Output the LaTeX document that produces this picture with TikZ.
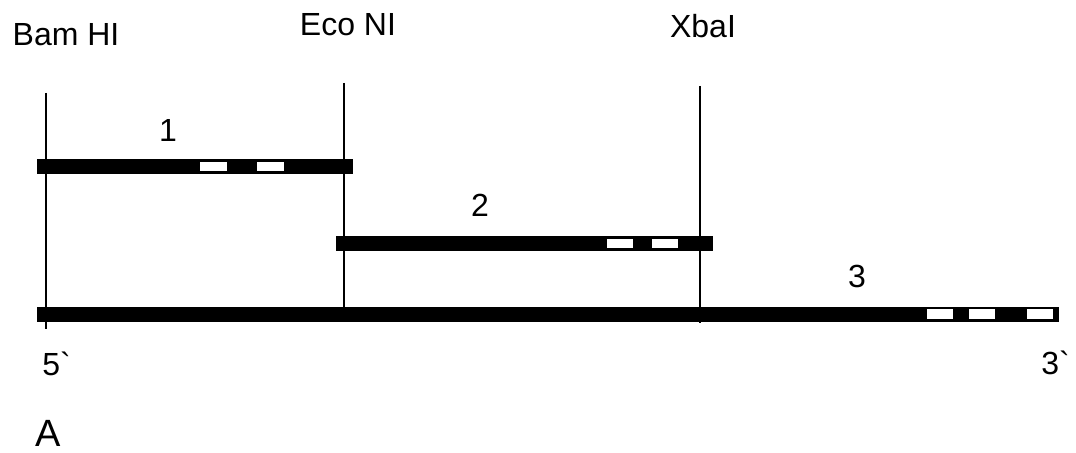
\documentclass[tikz,border=0pt]{standalone}
\usepackage{fontspec}
\newfontfamily\lab{Liberation Sans}
\begin{document}
\begin{tikzpicture}[x=0.5pt,y=-0.5pt,
  bar/.style={fill=black,inner sep=0pt,minimum height=7.5pt},
  gap/.style={fill=white,inner sep=0pt,minimum width=13.5pt,minimum height=4.5pt},
  cut/.style={line width=1pt},
  txt/.style={font=\lab\fontsize{16}{19}\selectfont,inner sep=0pt,anchor=base}]
\useasboundingbox (0,0) rectangle (1076,453);
% labels
\node[txt] (bam) at (66,46) {Bam HI};
\node[txt] (eco) at (348,36) {Eco NI};
\node[txt] (xba) at (703,38) {XbaI};
\node[txt] (l1) at (168,142) {1};
\node[txt] (l2) at (480,217) {2};
\node[txt] (l3) at (857,288) {3};
\node[txt,anchor=base west] (p5) at (42,376) {5`};
\node[txt,anchor=base west] (p3) at (1041,375) {3`};
\node[txt,anchor=base west,font=\lab\fontsize{19}{22}\selectfont] (A) at (35,447) {A};
% cut lines
\coordinate (c1t) at (46,93);  \coordinate (c1b) at (46,329);
\coordinate (c2t) at (344,83); \coordinate (c2b) at (344,310);
\coordinate (c3t) at (700,86); \coordinate (c3b) at (700,323);
\draw[cut] (c1t) -- (c1b);
\draw[cut] (c2t) -- (c2b);
\draw[cut] (c3t) -- (c3b);
% bars
\node[bar,minimum width=158pt] (b1) at (195,166.5) {};
\node[bar,minimum width=188.5pt] (b2) at (524.5,244) {};
\node[bar,minimum width=511pt] (b3) at (548,314.5) {};
% white gaps
\node[gap] (g11) at (213.5,166.5) {};
\node[gap] (g12) at (270.5,166.5) {};
\node[gap,minimum width=13pt] (g21) at (620,243.5) {};
\node[gap,minimum width=13pt] (g22) at (665,243.5) {};
\node[gap,minimum width=13pt,minimum height=5pt] (g31) at (940,314) {};
\node[gap,minimum width=13pt,minimum height=5pt] (g32) at (981.5,314) {};
\node[gap,minimum width=13pt,minimum height=5pt] (g33) at (1040,314) {};
\end{tikzpicture}
\end{document}
